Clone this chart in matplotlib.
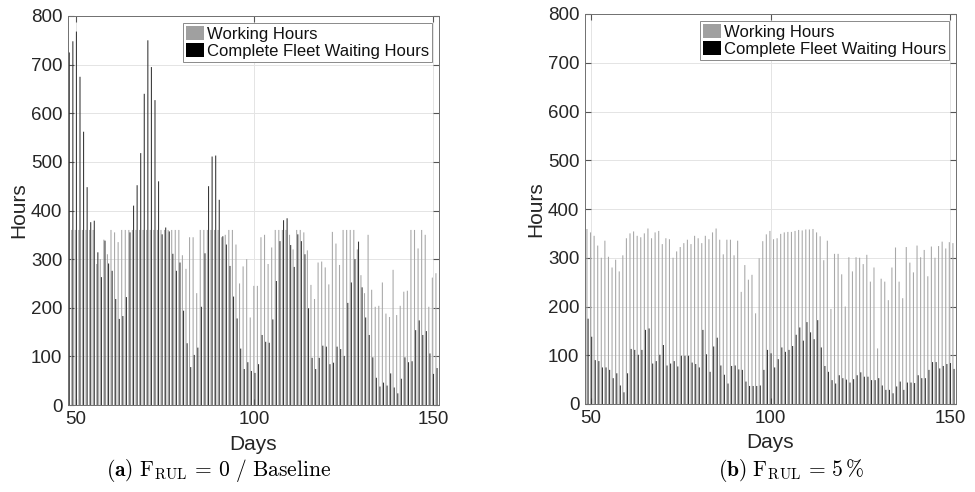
import numpy as np
import matplotlib
matplotlib.use('Agg')
from matplotlib import pyplot as plt
from matplotlib.patches import Patch

plt.rcParams['font.family'] = ['Liberation Sans', 'DejaVu Sans']
plt.rcParams['mathtext.fontset'] = 'cm'

# (a) baseline, days 48..151
days_a = np.arange(48, 152)
work_a = [360, 360, 360, 360, 360, 360, 360, 360, 290, 300,
          340, 310, 360, 355, 335, 360, 360, 360, 360, 360,
          360, 360, 360, 360, 360, 360, 360, 360, 360, 360,
          360, 360, 308, 280, 345, 345, 230, 360, 360, 360,
          360, 360, 360, 345, 350, 360, 360, 330, 250, 285,
          300, 180, 245, 245, 345, 350, 290, 324, 360, 360,
          360, 360, 350, 320, 360, 360, 355, 318, 247, 218,
          293, 295, 283, 248, 356, 332, 288, 360, 360, 360,
          360, 320, 267, 230, 350, 237, 202, 204, 252, 188,
          181, 278, 185, 204, 233, 235, 360, 360, 322, 360,
          350, 202, 262, 271]
wait_a = [725, 748, 768, 675, 562, 448, 376, 379, 314, 263,
          338, 291, 276, 218, 177, 183, 222, 355, 410, 452,
          518, 640, 750, 695, 627, 460, 351, 365, 357, 311,
          276, 293, 194, 127, 78, 103, 118, 202, 312, 450,
          511, 513, 422, 347, 330, 286, 223, 178, 116, 74,
          88, 70, 66, 84, 144, 130, 128, 176, 255, 337,
          380, 384, 329, 284, 351, 337, 310, 199, 97, 74,
          97, 122, 120, 84, 87, 120, 115, 101, 210, 252,
          300, 336, 242, 180, 144, 98, 56, 38, 46, 40,
          65, 36, 24, 54, 98, 88, 90, 154, 174, 144,
          152, 106, 64, 76]

# (b) F_RUL = 5 %, days 49..151
days_b = np.arange(49, 152)
work_b = [359, 352, 345, 325, 300, 335, 302, 280, 296, 272,
          305, 340, 350, 354, 345, 342, 350, 360, 340, 352,
          355, 328, 340, 338, 300, 313, 322, 330, 337, 328,
          345, 340, 330, 345, 338, 352, 360, 337, 307, 337,
          337, 305, 335, 230, 285, 255, 265, 186, 299, 334,
          348, 355, 338, 340, 349, 352, 353, 353, 355, 357,
          356, 358, 358, 359, 352, 344, 295, 335, 195, 308,
          308, 266, 200, 301, 272, 301, 300, 287, 306, 251,
          280, 114, 257, 251, 213, 280, 321, 251, 217, 322,
          290, 270, 325, 301, 316, 262, 323, 300, 324, 333,
          319, 332, 330]
wait_b = [175, 138, 90, 88, 75, 75, 70, 53, 63, 38,
          24, 63, 113, 111, 101, 111, 152, 155, 83, 88,
          101, 121, 79, 83, 88, 77, 99, 99, 99, 85,
          82, 75, 152, 102, 66, 118, 136, 79, 60, 42,
          78, 79, 71, 70, 46, 37, 37, 37, 38, 70,
          111, 104, 75, 92, 116, 107, 111, 119, 142, 157,
          130, 168, 147, 133, 172, 116, 78, 66, 49, 42,
          59, 53, 50, 44, 51, 59, 65, 56, 56, 49,
          49, 53, 38, 29, 29, 22, 36, 46, 29, 44,
          44, 43, 59, 53, 53, 70, 86, 86, 73, 78,
          82, 84, 72]

labels = ['Working Hours', 'Complete Fleet Waiting Hours']
txt = '#262626'

fig = plt.figure(figsize=(9.75, 4.92), dpi=100)
ax1 = fig.add_axes([68/975, 1-405/492, 371/975, 389/492])
ax2 = fig.add_axes([585/975, 1-404/492, 371/975, 390/492])

def draw(ax, days, work, wait, xlim):
    w = 0.3
    ax.bar(days - 0.16, work, w, color='#a8a8a8', linewidth=0, snap=False, zorder=2)
    ax.bar(days + 0.16, wait, w, color='#383838', linewidth=0, snap=False, zorder=2)
    ax.set_xlim(xlim)
    ax.set_ylim(0, 800)
    ax.set_xticks([50, 100, 150])
    ax.set_yticks(range(0, 801, 100))
    ax.grid(True, color='#e4e4e4', linewidth=0.7, zorder=0)
    ax.set_axisbelow(True)
    ax.tick_params(direction='in', length=4, top=True, right=True,
                   labelsize=13.5, colors='#555555', labelcolor=txt, pad=4)
    for s in ax.spines.values():
        s.set_color('#707070')
        s.set_linewidth(0.7)
    ax.set_xlabel('Days', fontsize=15, color=txt, labelpad=5)
    ax.set_ylabel('Hours', fontsize=15, color=txt, labelpad=2)
    handles = [Patch(facecolor='#a0a0a0', edgecolor='none'), Patch(facecolor='#000000', edgecolor='none')]
    leg = ax.legend(handles, labels, loc='upper right', fontsize=12,
                    handlelength=1.1, handleheight=0.9, handletextpad=0.15,
                    borderpad=0.2, labelspacing=0.1, borderaxespad=0.4,
                    fancybox=False, framealpha=1, edgecolor='#8a8a8a')
    leg.get_frame().set_linewidth(0.7)
    for t in leg.get_texts():
        t.set_color('#111111')

draw(ax1, days_a, work_a, wait_a, (47.8, 151.7))
draw(ax2, days_b, work_b, wait_b, (48.3, 151.7))

fig.text(219/975, 1-470/492, r'$\mathbf{(a)}\ \mathrm{F}_{\mathrm{RUL}}\,=\,0\ /\ \mathrm{Baseline}$',
         ha='center', va='center', fontsize=15.5)
fig.text(791/975, 1-470/492, r'$\mathbf{(b)}\ \mathrm{F}_{\mathrm{RUL}}\,=\,5\,\%$',
         ha='center', va='center', fontsize=15.5)

fig.savefig('out.png', dpi=100)
